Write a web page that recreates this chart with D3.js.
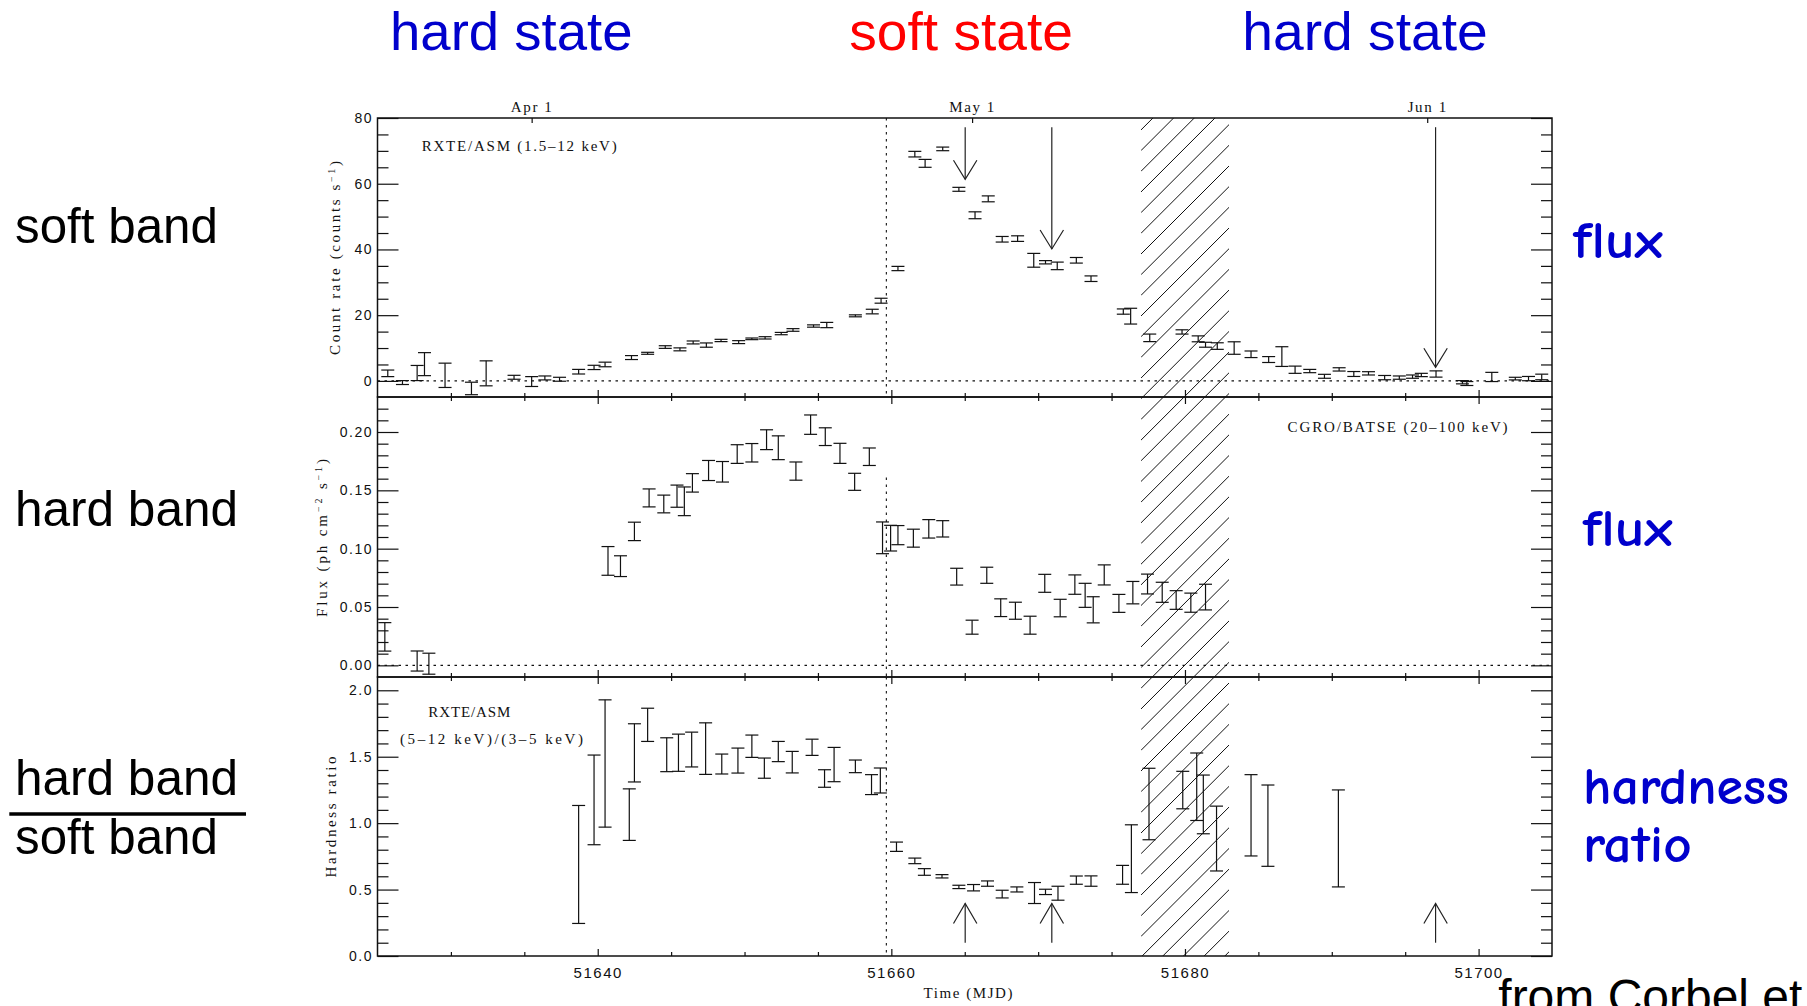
<!DOCTYPE html>
<html><head><meta charset="utf-8">
<script src="https://cdn.jsdelivr.net/npm/d3@7"></script>
<style>
html,body{margin:0;padding:0;background:#fff;}
svg{display:block;}
</style></head><body>
<svg id="c" width="1807" height="1006"></svg>
<script>
// ---------------- data ----------------
const xDomain = [51625, 51705];
// RXTE/ASM 1.5-12 keV count rate: [MJD, rate, error]
const asmRate = [
  [51625.7,2.3,1.0],[51626.7,-0.5,0.6],[51627.7,2.4,2.3],[51628.2,5.1,3.5],[51629.6,1.7,3.7],
  [51631.4,-2.3,1.9],[51632.4,2.3,3.8],[51634.3,1.1,0.6],[51635.5,-0.2,1.5],[51636.4,0.9,0.6],
  [51637.4,0.5,0.6],[51638.7,2.8,0.7],[51639.75,4.1,0.65],[51640.5,5.0,0.7],[51642.3,7.1,0.6],
  [51643.4,8.4,0.3],[51644.6,10.3,0.4],[51645.6,9.6,0.45],[51646.5,11.7,0.45],[51647.4,10.9,0.65],
  [51648.4,12.3,0.35],[51649.6,11.8,0.45],[51650.5,12.8,0.25],[51651.4,13.1,0.35],[51652.5,14.4,0.35],
  [51653.3,15.5,0.4],[51654.7,16.7,0.35],[51655.6,17.0,0.8],[51657.55,19.8,0.3],[51658.7,21.1,0.7],
  [51659.3,24.4,0.75],[51660.45,34.2,0.65],[51661.6,69.0,0.85],[51662.3,66.2,1.2],[51663.5,70.6,0.55],
  [51664.6,58.3,0.6],[51665.7,50.4,1.05],[51666.6,55.4,0.9],[51667.55,43.1,0.85],[51668.6,43.3,0.85],
  [51669.7,36.7,2.1],[51670.5,36.1,0.5],[51671.3,35.0,1.15],[51672.6,36.7,0.85],[51673.6,31.1,0.85],
  [51675.8,21.1,0.8],[51676.3,19.7,2.4],[51677.6,13.1,1.15],[51679.8,14.9,0.65],[51680.9,12.8,0.9],
  [51681.4,11.0,0.75],[51682.2,10.6,1.0],[51683.35,10.0,1.9],[51684.5,8.1,1.0],[51685.7,6.5,0.9],
  [51686.6,7.4,3.0],[51687.5,3.4,1.1],[51688.5,3.0,0.5],[51689.5,1.4,0.6],[51690.5,3.5,0.5],
  [51691.5,2.1,0.75],[51692.5,2.3,0.5],[51693.6,1.0,0.65],[51694.6,1.0,0.5],[51695.5,1.3,0.5],
  [51696.1,1.8,0.5],[51697.1,2.1,0.95],[51698.9,-0.4,0.5],[51699.2,-0.8,0.6],[51700.9,1.2,1.4],
  [51702.5,0.7,0.4],[51703.4,0.7,0.65],[51704.3,1.2,0.85]
];
// CGRO/BATSE 20-100 keV flux: [MJD, flux, error]
const batseFlux = [
  [51625.5,0.0244,0.0122],[51627.7,0.0037,0.0086],[51628.5,0.0014,0.009],[51640.7,0.0895,0.0123],
  [51641.55,0.085,0.0089],[51642.5,0.1148,0.0079],[51643.5,0.1435,0.0077],[51644.5,0.1383,0.0076],
  [51645.4,0.145,0.0095],[51645.9,0.1406,0.0123],[51646.45,0.1564,0.0079],[51647.55,0.167,0.0086],
  [51648.5,0.1659,0.0088],[51649.5,0.1811,0.008],[51650.5,0.1822,0.0079],[51651.5,0.1934,0.0085],
  [51652.3,0.1865,0.0102],[51653.5,0.1665,0.0078],[51654.5,0.2063,0.0083],[51655.5,0.196,0.0076],
  [51656.5,0.1817,0.0086],[51657.5,0.1573,0.0073],[51658.5,0.1788,0.0075],[51659.4,0.1093,0.0136],
  [51659.95,0.109,0.011],[51660.45,0.1116,0.0082],[51661.5,0.109,0.0077],[51662.55,0.117,0.0079],
  [51663.5,0.117,0.007],[51664.45,0.076,0.0072],[51665.5,0.0327,0.006],[51666.5,0.0772,0.0069],
  [51667.45,0.0494,0.0076],[51668.45,0.0468,0.0073],[51669.45,0.0344,0.0077],[51670.45,0.0703,0.0077],
  [51671.5,0.0491,0.0075],[51672.5,0.0692,0.0083],[51673.2,0.06,0.0103],[51673.75,0.0476,0.0112],
  [51674.5,0.0775,0.0086],[51675.5,0.0531,0.0077],[51676.45,0.0623,0.0096],[51677.45,0.0697,0.0085],
  [51678.45,0.0626,0.0086],[51679.4,0.056,0.008],[51680.4,0.0537,0.0082],[51681.4,0.0585,0.011]
];
// RXTE/ASM hardness ratio (5-12 keV)/(3-5 keV): [MJD, ratio, error]
const hardness = [
  [51638.7,0.689,0.444],[51639.75,1.175,0.3375],[51640.5,1.449,0.479],[51642.15,1.064,0.194],
  [51642.5,1.529,0.219],[51643.4,1.74,0.125],[51644.7,1.515,0.1275],[51645.5,1.53,0.14],
  [51646.4,1.554,0.131],[51647.35,1.561,0.194],[51648.45,1.445,0.075],[51649.55,1.471,0.094],
  [51650.5,1.579,0.084],[51651.35,1.414,0.076],[51652.3,1.539,0.076],[51653.25,1.459,0.081],
  [51654.6,1.571,0.061],[51655.45,1.336,0.066],[51656.1,1.441,0.129],[51657.55,1.4275,0.0475],
  [51658.65,1.29,0.075],[51659.25,1.321,0.094],[51660.35,0.8225,0.035],[51661.6,0.716,0.021],
  [51662.25,0.6325,0.025],[51663.45,0.6,0.0125],[51664.6,0.52,0.0125],[51665.6,0.514,0.024],
  [51666.55,0.545,0.02],[51667.55,0.466,0.029],[51668.55,0.501,0.019],[51669.75,0.474,0.079],
  [51670.5,0.4825,0.02],[51671.35,0.4725,0.0525],[51672.6,0.571,0.031],[51673.6,0.564,0.039],
  [51675.75,0.611,0.071],[51676.35,0.7325,0.255],[51677.55,1.144,0.269],[51679.85,1.249,0.141],
  [51680.8,1.274,0.254],[51681.25,1.141,0.221],[51682.15,0.884,0.244],[51684.5,1.059,0.306],
  [51685.65,0.981,0.306],[51690.45,0.885,0.365]
];
const mjdMajor = [51640, 51660, 51680, 51700];
const mjdMinor = [51630, 51635, 51645, 51650, 51655, 51665, 51670, 51675, 51685, 51690, 51695];
const monthTicks = [51635.5, 51665.5, 51696.5];
const monthLabels = ["Apr 1", "May 1", "Jun 1"];
const rateTicks = [0, 20, 40, 60, 80];
const rateMinor = [5,10,15,25,30,35,45,50,55,65,70,75];
const fluxTicks = [0, 0.05, 0.10, 0.15, 0.20];
const fluxMinor = [0.01,0.02,0.03,0.04,0.06,0.07,0.08,0.09,0.11,0.12,0.13,0.14,0.16,0.17,0.18,0.19,0.21,0.22];
const hrTicks = [0, 0.5, 1.0, 1.5, 2.0];
const hrMinor = [0.1,0.2,0.3,0.4,0.6,0.7,0.8,0.9,1.1,1.2,1.3,1.4,1.6,1.7,1.8,1.9];
const transitionMJD = 51659.66;
const batseTransitionTop = 0.161;
const hatchRange = [51677, 51683];
// arrows: [MJD, tail value, tip value]
const downArrows = [[51665.03, 77.2, 61.35], [51670.93, 77.2, 40.15], [51697.07, 77.2, 4.15]];
const upArrows = [[51665.03, 0.1, 0.395], [51670.93, 0.1, 0.395], [51697.07, 0.1, 0.395]];

// ---------------- layout ----------------
const svg = d3.select("#c");
const L = 377.5, R = 1552;
const x = d3.scaleLinear().domain(xDomain).range([L, R]);
const panels = [
  {top:118, bottom:397, domain:[-4.9,80], major:rateTicks, minor:rateMinor, fmt:d3.format("d")},
  {top:397, bottom:677, domain:[-0.01,0.23], major:fluxTicks, minor:fluxMinor, fmt:d3.format(".2f")},
  {top:677, bottom:956, domain:[0,2.1], major:hrTicks, minor:hrMinor, fmt:d3.format(".1f")}
];
panels.forEach(p => p.y = d3.scaleLinear().domain(p.domain).range([p.bottom, p.top]));
const [yRate, yFlux, yHr] = panels.map(p => p.y);
const INK = "#111";

// hatched region (drawn first, spans all panels)
svg.append("clipPath").attr("id","hclip").append("rect")
  .attr("x", x(hatchRange[0])).attr("y", 118)
  .attr("width", x(hatchRange[1]) - x(hatchRange[0])).attr("height", 956 - 118);
const hx0 = x(hatchRange[0]);
svg.append("g").attr("clip-path","url(#hclip)")
  .selectAll("line").data(d3.range(-8, 50)).join("line")
  .attr("x1", hx0).attr("y1", k => 130 + k*20.68)
  .attr("x2", hx0 + 200).attr("y2", k => 130 + k*20.68 - 200)
  .attr("stroke", INK).attr("stroke-width", 1);

// dotted reference lines
const dot = "2.5,4.5";
[[yRate,0],[yFlux,0]].forEach(([y,v]) => {
  svg.append("line").attr("x1",L).attr("x2",R).attr("y1",y(v)).attr("y2",y(v))
    .attr("stroke",INK).attr("stroke-width",1.1).attr("stroke-dasharray",dot);
});
const vx = x(transitionMJD);
[[118,397],[yFlux(batseTransitionTop),677],[677,956]].forEach(([a,b]) => {
  svg.append("line").attr("x1",vx).attr("x2",vx).attr("y1",a).attr("y2",b)
    .attr("stroke",INK).attr("stroke-width",1.1).attr("stroke-dasharray",dot);
});

// axes
function styleAxis(g){ g.select(".domain").remove(); g.selectAll("line").attr("stroke",INK).attr("stroke-width",1.2); }
panels.forEach((p,i) => {
  svg.append("g").attr("transform",`translate(${L},0)`)
    .call(d3.axisLeft(p.y).tickValues(p.major).tickSize(-21).tickPadding(4.5).tickFormat(p.fmt))
    .call(styleAxis)
    .call(g => g.selectAll("text").attr("font-family","Liberation Sans, Arial, sans-serif")
      .attr("font-size",14).attr("letter-spacing","1.5px").attr("fill",INK));
  svg.append("g").attr("transform",`translate(${L},0)`)
    .call(d3.axisLeft(p.y).tickValues(p.minor).tickSize(-11).tickFormat("")).call(styleAxis);
  svg.append("g").attr("transform",`translate(${R},0)`)
    .call(d3.axisRight(p.y).tickValues(p.major).tickSize(-21).tickFormat("")).call(styleAxis);
  svg.append("g").attr("transform",`translate(${R},0)`)
    .call(d3.axisRight(p.y).tickValues(p.minor).tickSize(-11).tickFormat("")).call(styleAxis);
  // x ticks, inward
  if (i > 0) {
    svg.append("g").attr("transform",`translate(0,${p.top})`)
      .call(d3.axisBottom(x).tickValues(mjdMajor).tickSize(7).tickFormat("")).call(styleAxis);
    svg.append("g").attr("transform",`translate(0,${p.top})`)
      .call(d3.axisBottom(x).tickValues(mjdMinor).tickSize(4).tickFormat("")).call(styleAxis);
  }
  if (i < 2) {
    svg.append("g").attr("transform",`translate(0,${p.bottom})`)
      .call(d3.axisTop(x).tickValues(mjdMajor).tickSize(7).tickFormat("")).call(styleAxis);
    svg.append("g").attr("transform",`translate(0,${p.bottom})`)
      .call(d3.axisTop(x).tickValues(mjdMinor).tickSize(4).tickFormat("")).call(styleAxis);
  }
});
// bottom labelled axis
svg.append("g").attr("transform",`translate(0,956)`)
  .call(d3.axisBottom(x).tickValues(mjdMajor).tickSize(-7).tickPadding(11).tickFormat(d3.format("d")))
  .call(styleAxis)
  .call(g => g.selectAll("text").attr("font-family","Liberation Sans, Arial, sans-serif")
    .attr("font-size",15).attr("letter-spacing","1.5px").attr("fill",INK));
svg.append("g").attr("transform",`translate(0,956)`)
  .call(d3.axisBottom(x).tickValues(mjdMinor).tickSize(-4).tickFormat("")).call(styleAxis);
// top month axis
svg.append("g").attr("transform",`translate(0,118)`)
  .call(d3.axisTop(x).tickValues(monthTicks).tickSize(-5).tickPadding(6.3).tickFormat((d,i) => monthLabels[i]))
  .call(styleAxis)
  .call(g => g.selectAll("text").attr("font-family","Liberation Serif, Times New Roman, serif")
    .attr("font-size",15).attr("letter-spacing","1.6px").attr("fill",INK));

// frames
panels.forEach(p => {
  svg.append("rect").attr("x",L).attr("y",p.top).attr("width",R-L).attr("height",p.bottom-p.top)
    .attr("fill","none").attr("stroke",INK).attr("stroke-width",1.5);
});

// error bars
const CAP = 6.5;
function errorBars(data, y){
  const g = svg.append("g").attr("stroke",INK).attr("stroke-width",1.2).attr("fill","none");
  const sel = g.selectAll("g").data(data).join("g");
  sel.append("line").attr("x1",d=>x(d[0])).attr("x2",d=>x(d[0]))
    .attr("y1",d=>y(d[1]-d[2])).attr("y2",d=>y(d[1]+d[2]));
  sel.append("line").attr("x1",d=>x(d[0])-CAP).attr("x2",d=>x(d[0])+CAP)
    .attr("y1",d=>y(d[1]-d[2])).attr("y2",d=>y(d[1]-d[2]));
  sel.append("line").attr("x1",d=>x(d[0])-CAP).attr("x2",d=>x(d[0])+CAP)
    .attr("y1",d=>y(d[1]+d[2])).attr("y2",d=>y(d[1]+d[2]));
}
errorBars(asmRate, yRate);
errorBars(batseFlux, yFlux);
errorBars(hardness, yHr);

// arrows
function arrows(data, y, dir){
  const g = svg.append("g").attr("stroke","#222").attr("stroke-width",1.2).attr("fill","none");
  data.forEach(d => {
    const xx = x(d[0]), y0 = y(d[1]), y1 = y(d[2]);
    g.append("line").attr("x1",xx).attr("x2",xx).attr("y1",y0).attr("y2",y1);
    const back = dir === "down" ? -19 : 20;
    g.append("polyline").attr("points",`${xx-11.7},${y1+back} ${xx},${y1} ${xx+11.7},${y1+back}`);
  });
}
arrows(downArrows, yRate, "down");
arrows(upArrows, yHr, "up");

// in-panel texts
const serif = "Liberation Serif, Times New Roman, serif";
function ptext(str, xx, yy, len, anchor){
  return svg.append("text").attr("x",xx).attr("y",yy).attr("font-family",serif).attr("font-size",15)
    .attr("fill",INK).attr("text-anchor",anchor||"start").attr("textLength",len).attr("lengthAdjust","spacing").text(str);
}
ptext("RXTE/ASM (1.5–12 keV)", 421.7, 151, 195);
ptext("CGRO/BATSE (20–100 keV)", 1287.6, 432, 220);
ptext("RXTE/ASM", 428.3, 717, 82);
ptext("(5–12 keV)/(3–5 keV)", 400, 744, 183);

// axis titles
function ytitle(cx, cy, len, parts){
  const t = svg.append("text").attr("transform",`translate(${cx},${cy}) rotate(-90)`)
    .attr("text-anchor","middle").attr("font-family",serif).attr("font-size",15).attr("fill",INK)
    .attr("textLength",len).attr("lengthAdjust","spacing");
  parts.forEach(p => {
    const s = t.append("tspan").text(p[0]);
    if (p[1]) s.attr("font-size",10).attr("baseline-shift","super");
  });
}
ytitle(340, 258, 194, [["Count rate (counts s"],["−1",1],[")"]]);
ytitle(327, 538, 158, [["Flux (ph cm"],["−2",1],[" s"],["−1",1],[")"]]);
ytitle(336, 817, 121, [["Hardness ratio"]]);
svg.append("text").attr("x",968).attr("y",998).attr("text-anchor","middle").attr("font-family",serif)
  .attr("font-size",15).attr("fill",INK).attr("textLength",89).attr("lengthAdjust","spacing").text("Time (MJD)");

// big annotations
const sans = "Liberation Sans, Arial, Helvetica, sans-serif";
function big(str, xx, yy, size, color, len, fam, weight){
  svg.append("text").attr("x",xx).attr("y",yy).attr("font-family",fam||sans).attr("font-size",size)
    .attr("font-weight",weight||"normal").attr("fill",color).attr("textLength",len).attr("lengthAdjust","spacingAndGlyphs").text(str);
}
const BLUE = "#0000cc", RED = "#ff0000";
big("hard state", 390, 50, 54, BLUE, 242.6);
big("soft state", 849.3, 50, 54, RED, 223.6);
big("hard state", 1242.3, 50, 54, BLUE, 245.5);
big("soft band", 15, 242.5, 50, "#000", 203);
big("hard band", 15, 526, 50, "#000", 223);
big("hard band", 15, 795, 50, "#000", 223);
big("soft band", 15, 854, 50, "#000", 203);
svg.append("line").attr("x1",9.3).attr("x2",246).attr("y1",814).attr("y2",814).attr("stroke","#000").attr("stroke-width",3.5);
const comic = "Comic Sans MS, Comic Neue, Lato, sans-serif";
big("flux", 1573, 258, 52, BLUE, 90, comic, "bold");
big("flux", 1582.7, 546, 52, BLUE, 90, comic, "bold");
big("hardness", 1583, 804.3, 52, BLUE, 206, comic, "bold");
big("ratio", 1583, 862.3, 52, BLUE, 108.7, comic, "bold");
svg.append("text").attr("x",1498.3).attr("y",1013).attr("font-family",sans).attr("font-size",48)
  .attr("fill","#000").text("from Corbel et al.");
</script>
</body></html>
